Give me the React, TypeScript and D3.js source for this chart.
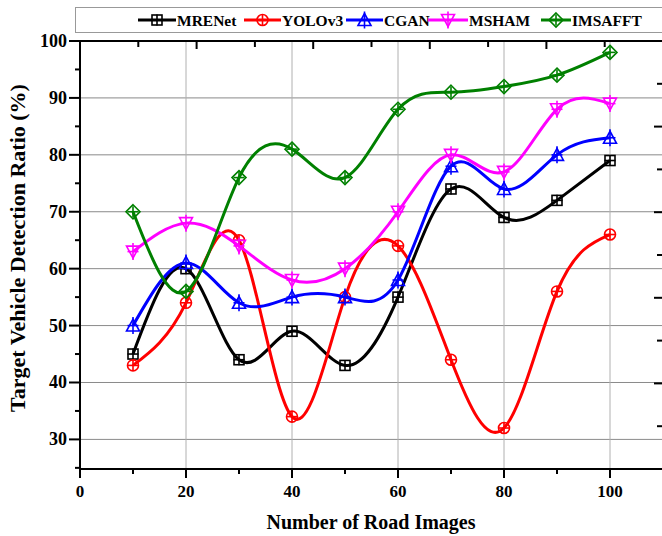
import React from 'react';
import * as d3 from 'd3';

const xValues = [10, 20, 30, 40, 50, 60, 70, 80, 90, 100];
const mrenet = [45, 60, 44, 49, 43, 55, 74, 69, 72, 79];
const yolov3 = [43, 54, 65, 34, 55, 64, 44, 32, 56, 66];
const cgan = [50, 61, 54, 55, 55, 58, 78, 74, 80, 83];
const msham = [63, 68, 64, 58, 60, 70, 80, 77, 88, 89];
const imsafft = [70, 56, 76, 81, 76, 88, 91, 92, 94, 98];

const xTicks = [0, 20, 40, 60, 80, 100];
const yTicks = [30, 40, 50, 60, 70, 80, 90, 100];

const series = [
    { name: 'MRENet', values: mrenet, color: '#000000', marker: 'square' },
    { name: 'YOLOv3', values: yolov3, color: '#ff0000', marker: 'circle' },
    { name: 'CGAN', values: cgan, color: '#0000ff', marker: 'up' },
    { name: 'MSHAM', values: msham, color: '#ff00ff', marker: 'down' },
    { name: 'IMSAFFT', values: imsafft, color: '#008000', marker: 'diamond' },
];

const font = '"Liberation Serif", "Times New Roman", serif';

function Marker({ type, cx, cy, color }) {
    const s = 5.5;
    let shape;
    if (type === 'square') {
        shape = <rect x={cx - s + 0.5} y={cy - s + 0.5} width={2 * s - 1} height={2 * s - 1} />;
    } else if (type === 'circle') {
        shape = <circle cx={cx} cy={cy} r={s} />;
    } else if (type === 'up') {
        shape = <path d={`M${cx},${cy - s - 1}L${cx + s + 1},${cy + s}L${cx - s - 1},${cy + s}Z`} />;
    } else if (type === 'down') {
        shape = <path d={`M${cx},${cy + s + 1}L${cx + s + 1},${cy - s}L${cx - s - 1},${cy - s}Z`} />;
    } else {
        shape = <path d={`M${cx},${cy - s - 1.5}L${cx + s + 1.5},${cy}L${cx},${cy + s + 1.5}L${cx - s - 1.5},${cy}Z`} />;
    }
    const c = type === 'up' || type === 'down' ? s + 3 : s;
    return (
        <g fill="none" stroke={color} strokeWidth={1.6}>
            {shape}
            <line x1={cx - s} x2={cx + s} y1={cy} y2={cy} />
            <line x1={cx} x2={cx} y1={cy - c} y2={cy + c} />
        </g>
    );
}

export default function App() {
    const width = 662,
        height = 536;
    const margin = { top: 41, right: 0, bottom: 67, left: 80 };

    const x = d3.scaleLinear().domain([0, 110]).range([margin.left, 663]);
    const y = d3.scaleLinear().domain([24.8, 100]).range([height - margin.bottom, margin.top]);
    // mirrored axes on top and right use their own spacing
    const xTop = d3.scaleLinear().domain([0, 100]).range([margin.left, 663]);
    const yRight = d3.scaleLinear().domain([0, 100]).range([height - margin.bottom, margin.top]);

    const line = d3
        .line()
        .x((d) => x(d[0]))
        .y((d) => y(d[1]))
        .curve(d3.curveNatural);

    const bottom = height - margin.bottom;
    const xMinor = d3.range(10, 111, 20);
    const yMinor = d3.range(25, 100, 10);

    const legendX = [138, 244, 346, 428, 541];
    const legendLen = [38, 37, 37, 40, 30];

    return (
        <div style={{ position: 'absolute', left: 0, top: 0 }}>
            <svg width={width} height={height} style={{ display: 'block', background: '#fff' }}>
                {/* grid */}
                <g stroke="#8a8a8a" strokeWidth={1}>
                    {yTicks
                        .filter((t) => t < 100)
                        .map((t) => (
                            <line key={t} x1={margin.left} x2={width} y1={y(t)} y2={y(t)} />
                        ))}
                </g>
                <g stroke="#b0b0b0" strokeWidth={1}>
                    {xTicks
                        .filter((t) => t > 0)
                        .map((t) => (
                            <line key={t} x1={x(t)} x2={x(t)} y1={margin.top} y2={bottom} />
                        ))}
                </g>

                {/* series */}
                {series.map((s) => (
                    <g key={s.name}>
                        <path
                            d={line(xValues.map((v, i) => [v, s.values[i]]))}
                            fill="none"
                            stroke={s.color}
                            strokeWidth={3}
                        />
                        {xValues.map((v, i) => (
                            <Marker key={v} type={s.marker} cx={x(v)} cy={y(s.values[i])} color={s.color} />
                        ))}
                    </g>
                ))}

                {/* frame */}
                <g stroke="#000" strokeWidth={2}>
                    <line x1={margin.left} x2={width} y1={bottom} y2={bottom} />
                    <line x1={margin.left} x2={width} y1={margin.top} y2={margin.top} />
                    <line x1={margin.left} x2={margin.left} y1={margin.top} y2={bottom + 8} />
                </g>

                {/* bottom axis */}
                <g stroke="#000" strokeWidth={2}>
                    {xTicks.map((t) => (
                        <line key={t} x1={x(t)} x2={x(t)} y1={bottom} y2={bottom + 9} />
                    ))}
                    {xMinor.map((t) => (
                        <line key={t} x1={x(t)} x2={x(t)} y1={bottom} y2={bottom + 5} />
                    ))}
                </g>
                <g fontFamily={font} fontWeight="bold" fontSize={17} textAnchor="middle">
                    {xTicks.map((t) => (
                        <text key={t} x={x(t)} y={bottom + 28}>
                            {t}
                        </text>
                    ))}
                </g>

                {/* left axis */}
                <g stroke="#000" strokeWidth={2}>
                    {yTicks.map((t) => (
                        <line key={t} x1={margin.left - 11} x2={margin.left} y1={y(t)} y2={y(t)} />
                    ))}
                    {yMinor.map((t) => (
                        <line key={t} x1={margin.left - 5} x2={margin.left} y1={y(t)} y2={y(t)} />
                    ))}
                </g>
                <g fontFamily={font} fontWeight="bold" fontSize={18} textAnchor="end">
                    {yTicks.map((t) => (
                        <text key={t} x={margin.left - 13} y={y(t) + 6}>
                            {t}
                        </text>
                    ))}
                </g>

                {/* top and right ticks */}
                <g stroke="#000" strokeWidth={2}>
                    {d3.range(10, 101, 10).map((t) => (
                        <line
                            key={t}
                            x1={xTop(t)}
                            x2={xTop(t)}
                            y1={margin.top}
                            y2={margin.top + (t % 20 === 0 ? 8 : 6)}
                        />
                    ))}
                    {d3.range(10, 100, 10).map((t) => (
                        <line
                            key={t}
                            x1={663 - (t % 20 === 0 ? 9 : 6)}
                            x2={663}
                            y1={yRight(t)}
                            y2={yRight(t)}
                        />
                    ))}
                </g>

                {/* titles */}
                <text
                    x={371}
                    y={529}
                    fontFamily={font}
                    fontWeight="bold"
                    fontSize={20}
                    textAnchor="middle"
                >
                    Number of Road Images
                </text>
                <text
                    transform={`translate(25, 248) rotate(-90)`}
                    fontFamily={font}
                    fontWeight="bold"
                    fontSize={22}
                    textAnchor="middle"
                >
                    Target Vehicle Detection Ratio (%)
                </text>

                {/* legend */}
                <rect x={75.5} y={7.5} width={600} height={25} fill="#fff" stroke="#999" strokeWidth={1} />
                {series.map((s, i) => (
                    <g key={s.name}>
                        <line
                            x1={legendX[i]}
                            x2={legendX[i] + legendLen[i]}
                            y1={20}
                            y2={20}
                            stroke={s.color}
                            strokeWidth={3}
                        />
                        <Marker type={s.marker} cx={legendX[i] + legendLen[i] / 2} cy={20} color={s.color} />
                        <text
                            x={legendX[i] + legendLen[i] + 1}
                            y={25.5}
                            fontFamily={font}
                            fontWeight="bold"
                            fontSize={15.5}
                        >
                            {s.name}
                        </text>
                    </g>
                ))}
            </svg>
        </div>
    );
}
